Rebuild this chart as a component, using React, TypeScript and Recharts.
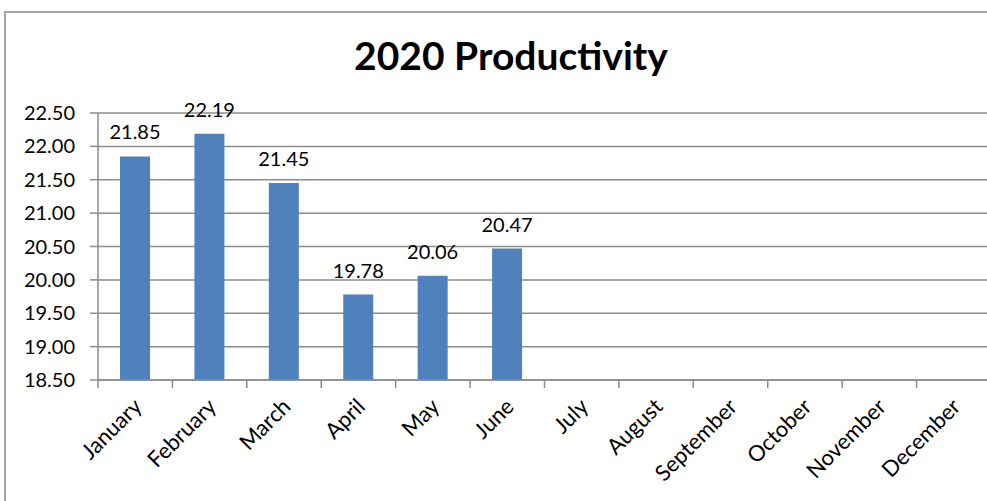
import { useLayoutEffect } from 'react';
import { BarChart, Bar, XAxis, YAxis, CartesianGrid, LabelList } from 'recharts';

const months = [
  'January', 'February', 'March', 'April', 'May', 'June',
  'July', 'August', 'September', 'October', 'November', 'December',
];
const productivity: (number | null)[] = [21.85, 22.19, 21.45, 19.78, 20.06, 20.47, null, null, null, null, null, null];
const yTicks = [18.5, 19, 19.5, 20, 20.5, 21, 21.5, 22, 22.5];

const data = months.map((m, i) => ({ month: m, value: productivity[i] }));

const FONT = 'Lato, "Open Sans", sans-serif';
const GRID = '#8c8c8c';

function MonthTick(props: any) {
  const { x, y, payload } = props;
  const half = payload?.offset ?? 0;
  return (
    <g>
      <line x1={x - half} y1={y - 8} x2={x - half} y2={y} stroke={GRID} strokeWidth={1.5} />
      <text
        x={x + 8}
        y={y + 20}
        textAnchor="end"
        fontSize={22}
        fontFamily={FONT}
        fill="#000"
        transform={`rotate(-45, ${x + 8}, ${y + 20})`}
      >
        {payload.value}
      </text>
    </g>
  );
}

export default function App() {
  useLayoutEffect(() => {
    document.documentElement.style.overflow = 'hidden';
    document.body.style.overflow = 'hidden';
  }, []);

  return (
    <div style={{ position: 'fixed', left: 0, top: 0, width: 987, height: 501, overflow: 'hidden', background: '#fff' }}>
      <style>{'html, body { overflow: hidden; scrollbar-width: none; } ::-webkit-scrollbar { display: none; width: 0; height: 0; }'}</style>
      <div
        style={{
          position: 'absolute', left: 4, top: 11, width: 1100, height: 600,
          borderTop: '2px solid #a6a6a6', borderLeft: '2px solid #a6a6a6', boxSizing: 'border-box',
        }}
      />
      <div
        style={{
          position: 'absolute', left: 0, top: 30, width: 1022, textAlign: 'center',
          fontFamily: FONT, fontWeight: 700, fontSize: 39, lineHeight: '50px', color: '#000',
        }}
      >
        2020 Productivity
      </div>
      <div style={{ position: 'absolute', left: 0, top: 0, width: 1000, height: 501 }}>
        <BarChart width={1000} height={501} data={data} margin={{ top: 113, right: 9, left: 0, bottom: 0 }}>
          <CartesianGrid vertical={false} stroke={GRID} strokeWidth={1.5} />
          <XAxis
            dataKey="month"
            height={121}
            interval={0}
            axisLine={{ stroke: GRID, strokeWidth: 1.5 }}
            tickLine={false}
            tick={<MonthTick />}
          />
          <YAxis
            width={98}
            domain={[18.5, 22.5]}
            ticks={yTicks}
            allowDataOverflow
            tickFormatter={(v: number) => v.toFixed(2)}
            axisLine={{ stroke: GRID, strokeWidth: 1.5 }}
            tickLine={{ stroke: GRID, strokeWidth: 1.5 }}
            tickSize={8}
            tickMargin={15}
            tick={{ fontSize: 20, fontFamily: FONT, fill: '#000' }}
          />
          <Bar dataKey="value" fill="#4F81BD" barSize={30} isAnimationActive={false}>
            <LabelList
              dataKey="value"
              position="top"
              offset={17}
              formatter={(v: any) => (v == null ? '' : Number(v).toFixed(2))}
              style={{ fontSize: 20, fontFamily: FONT, fill: '#000' }}
            />
          </Bar>
        </BarChart>
      </div>
    </div>
  );
}
